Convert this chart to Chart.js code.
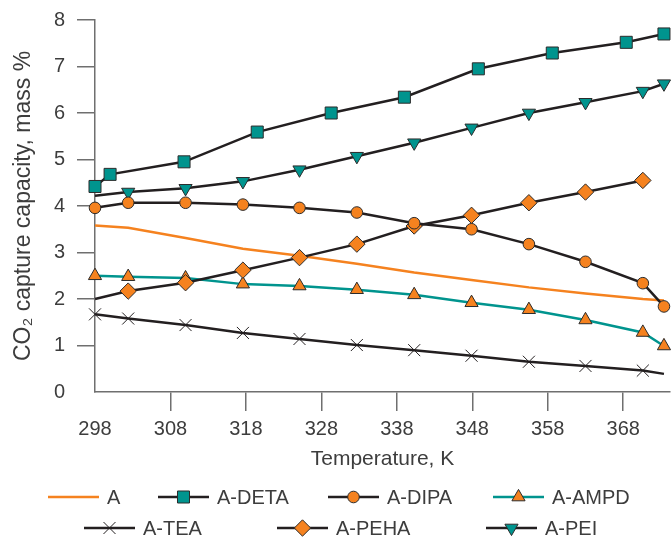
<!DOCTYPE html>
<html>
<head>
<meta charset="utf-8">
<script src="https://cdn.jsdelivr.net/npm/chart.js@4.4.1/dist/chart.umd.min.js"></script>
<style>
  html, body { margin: 0; padding: 0; background: #fff; }
  #wrap { width: 671px; height: 537px; position: relative; }
</style>
</head>
<body>
<div id="wrap"><canvas id="co2Chart"></canvas></div>
<script>
// Data kurva
const tempsMain = [298, 302.4, 310, 317.6, 325.1, 332.7, 340.3, 347.9, 355.5, 363, 370.6, 373.4];
const tempsDeta = [298, 300, 309.8, 319.5, 329.3, 339, 348.8, 358.6, 368.4, 373.4];

const valA    = [3.58, 3.53, 3.31, 3.08, 2.93, 2.76, 2.57, 2.41, 2.25, 2.12, 2.00, 1.97];
const valDeta = [4.42, 4.68, 4.95, 5.59, 6.00, 6.34, 6.95, 7.29, 7.52, 7.70];
const valDipa = [3.96, 4.07, 4.07, 4.03, 3.96, 3.86, 3.63, 3.50, 3.18, 2.80, 2.34, 1.84];
const valAmpd = [2.50, 2.48, 2.45, 2.32, 2.28, 2.20, 2.09, 1.92, 1.77, 1.55, 1.28, 0.99];
const valTea  = [1.67, 1.58, 1.44, 1.27, 1.14, 1.01, 0.90, 0.78, 0.65, 0.56, 0.46, 0.39];
const valPeha = [2.00, 2.17, 2.35, 2.62, 2.89, 3.18, 3.57, 3.80, 4.07, 4.30, 4.55];
const valPei  = [4.22, 4.30, 4.38, 4.53, 4.78, 5.07, 5.36, 5.68, 6.00, 6.23, 6.47, 6.63];

const xTicks = [298, 308, 318, 328, 338, 348, 358, 368];
const yTicks = [0, 1, 2, 3, 4, 5, 6, 7, 8];

const ORANGE = '#f5821f';
const TEAL = '#00948e';
const DARK = '#231f20';
const AXIS = '#6f6f6f';
const TEXT = '#3d3d3d';
const FONT = '"Liberation Sans", Arial, Helvetica, sans-serif';

function pts(xs, ys) {
    return ys.map((y, i) => ({ x: xs[i], y: y }));
}
// radius per titik; titik tertentu tanpa marker
function radii(n, r, hidden) {
    return Array.from({ length: n }, (_, i) => hidden.includes(i) ? 0 : r);
}

const datasets = [
    { label: 'A', data: pts(tempsMain, valA), borderColor: ORANGE, borderWidth: 2.5,
      pointRadius: 0, order: 6 },
    { label: 'A-DETA', data: pts(tempsDeta, valDeta), borderColor: DARK, borderWidth: 2.5,
      pointStyle: 'rect', pointRadius: 8.5, pointBackgroundColor: TEAL,
      pointBorderColor: '#2b2b2b', pointBorderWidth: 1, order: 1 },
    { label: 'A-DIPA', data: pts(tempsMain, valDipa), borderColor: DARK, borderWidth: 2.5,
      pointStyle: 'circle', pointRadius: 5.8, pointBackgroundColor: ORANGE,
      pointBorderColor: '#2b2b2b', pointBorderWidth: 1, order: 0 },
    { label: 'A-AMPD', data: pts(tempsMain, valAmpd), borderColor: TEAL, borderWidth: 2.5,
      pointStyle: 'triangle', pointRadius: 7.6, pointBackgroundColor: ORANGE,
      pointBorderColor: '#2b2b2b', pointBorderWidth: 1, order: 5 },
    { label: 'A-TEA', data: pts(tempsMain, valTea), borderColor: DARK, borderWidth: 2.5,
      pointStyle: 'crossRot', pointRadius: radii(valTea.length, 8.5, [valTea.length - 1]),
      pointBackgroundColor: DARK, pointBorderColor: DARK, pointBorderWidth: 1, order: 4 },
    { label: 'A-PEHA', data: pts(tempsMain, valPeha), borderColor: DARK, borderWidth: 2.5,
      pointStyle: 'rectRot', pointRadius: radii(valPeha.length, 8.2, [0]),
      pointBackgroundColor: ORANGE, pointBorderColor: '#2b2b2b', pointBorderWidth: 1, order: 3 },
    { label: 'A-PEI', data: pts(tempsMain, valPei), borderColor: DARK, borderWidth: 2.5,
      pointStyle: 'triangle', pointRotation: 180, pointRadius: radii(valPei.length, 7.6, [0]),
      pointBackgroundColor: TEAL, pointBorderColor: '#2b2b2b', pointBorderWidth: 1, order: 2 }
];
datasets.forEach(d => { d.clip = false; d.tension = 0; d.fill = false; d.pointHoverRadius = d.pointRadius; });

// Legenda dua baris (garis + marker), posisi dari gambar
const legendRows = [
    { y: 497, items: [[0, 48], [1, 158], [2, 328], [3, 493]] },
    { y: 528, items: [[4, 84], [5, 277], [6, 486]] }
];

const rowLegend = {
    id: 'rowLegend',
    afterDraw(chart) {
        const ctx = chart.ctx;
        ctx.save();
        legendRows.forEach(row => {
            row.items.forEach(([idx, x]) => {
                const ds = chart.data.datasets[idx];
                ctx.strokeStyle = ds.borderColor;
                ctx.lineWidth = ds.borderWidth;
                ctx.beginPath();
                ctx.moveTo(x, row.y);
                ctx.lineTo(x + 51, row.y);
                ctx.stroke();
                const r = Array.isArray(ds.pointRadius) ? Math.max(...ds.pointRadius) : ds.pointRadius;
                if (r > 0) {
                    ctx.fillStyle = ds.pointBackgroundColor;
                    ctx.strokeStyle = ds.pointBorderColor;
                    ctx.lineWidth = ds.pointBorderWidth;
                    Chart.helpers.drawPoint(ctx, {
                        pointStyle: ds.pointStyle,
                        rotation: ds.pointRotation || 0,
                        radius: r,
                        borderWidth: ds.pointBorderWidth
                    }, x + 25.5, row.y);
                }
                ctx.fillStyle = TEXT;
                ctx.font = '20px ' + FONT;
                ctx.textBaseline = 'middle';
                ctx.textAlign = 'left';
                ctx.fillText(ds.label, x + 59, row.y + 1);
            });
        });
        ctx.restore();
    }
};

const ctx = document.getElementById('co2Chart').getContext('2d');
new Chart(ctx, {
    type: 'line',
    data: { datasets: datasets },
    plugins: [rowLegend],
    options: {
        responsive: true,
        maintainAspectRatio: false,
        animation: false,
        events: [],
        layout: { autoPadding: false, padding: { left: 10, right: 1, top: 20, bottom: 65 } },
        plugins: { legend: { display: false }, tooltip: { enabled: false } },
        scales: {
            x: {
                type: 'linear',
                min: 298,
                max: 374.2,
                afterBuildTicks: scale => { scale.ticks = xTicks.map(v => ({ value: v })); },
                afterFit: scale => { scale.height = 80; scale.paddingRight = 0; scale.paddingLeft = 0; },
                grid: {
                    drawOnChartArea: false,
                    drawTicks: true,
                    tickLength: 19,
                    lineWidth: 1.5,
                    color: c => (c.tick && c.tick.value === 298) ? 'rgba(0,0,0,0)' : AXIS
                },
                border: { display: true, color: AXIS, width: 1.5 },
                ticks: { color: TEXT, font: { family: FONT, size: 20 }, padding: 6, maxRotation: 0,
                         callback: v => String(v) },
                title: { display: true, text: 'Temperature, K', color: TEXT,
                         font: { family: FONT, size: 21 }, padding: { top: 5, bottom: 0 } }
            },
            y: {
                type: 'linear',
                min: 0,
                max: 8,
                afterBuildTicks: scale => { scale.ticks = yTicks.map(v => ({ value: v })); },
                afterFit: scale => { scale.width = 85; scale.paddingTop = 0; scale.paddingBottom = 0; },
                grid: {
                    drawOnChartArea: false,
                    drawTicks: true,
                    tickLength: 18,
                    lineWidth: 1.5,
                    color: c => (c.tick && c.tick.value === 0) ? 'rgba(0,0,0,0)' : AXIS
                },
                border: { display: true, color: AXIS, width: 1.5 },
                ticks: { color: TEXT, font: { family: FONT, size: 20 }, padding: 12 },
                title: { display: true, text: 'CO₂ capture capacity, mass %', color: TEXT,
                         font: { family: FONT, size: 23 }, padding: { top: 0, bottom: 18 } }
            }
        }
    }
});
</script>
</body>
</html>
